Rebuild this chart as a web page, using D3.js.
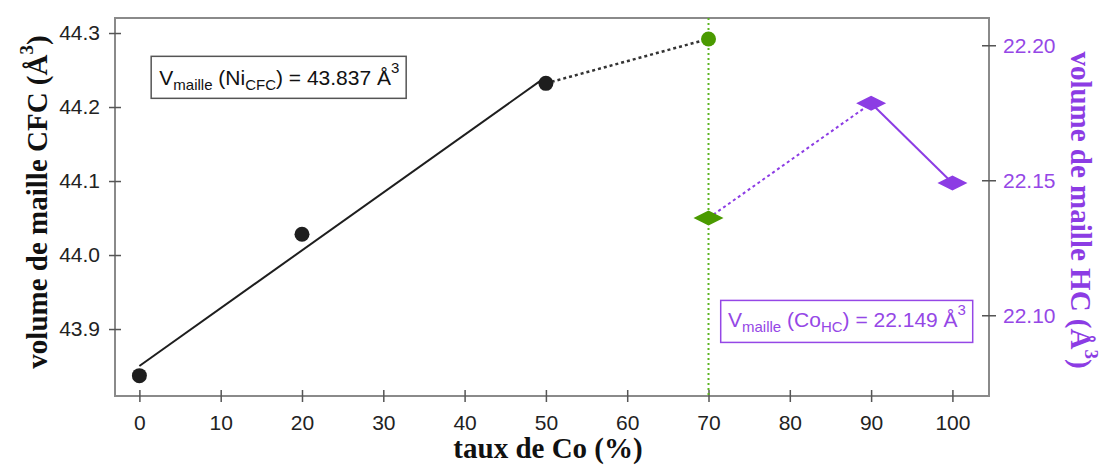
<!DOCTYPE html>
<html><head><meta charset="utf-8">
<script src="https://cdn.jsdelivr.net/npm/d3@7"></script>
<style>
html,body{margin:0;padding:0;background:#fff;}
svg{display:block;}
</style>
</head><body>
<svg id="chart" width="1109" height="466"></svg>
<script>
// ---- data ----
const cfcX = [0, 20, 50];
const cfcY = [43.837, 44.028, 44.232];
const greenCfcX = [70];
const greenCfcY = [44.292];
const hcX = [70, 90, 100];
const hcY = [22.136, 22.1785, 22.149];
const xTicks = [0, 10, 20, 30, 40, 50, 60, 70, 80, 90, 100];
const yLeftTicks = [43.9, 44.0, 44.1, 44.2, 44.3];
const yRightTicks = [22.10, 22.15, 22.20];
const boundary = [70];

const PURPLE = "#8c3ce4";
const PURPLE_TXT = "#9547e6";
const GREEN = "#4a9a00";
const GREEN_LINE = "#5cb520";

const svg = d3.select("#chart");
const L = 115, R = 989, T = 18, B = 396;

const x = d3.scaleLinear().domain([-3, 104.5]).range([L, R]);
const yL = d3.scaleLinear().domain([43.8095, 44.3203]).range([B, T]);
const yR = d3.scaleLinear().domain([22.0701, 22.2101]).range([B, T]);

// frame
svg.append("rect").attr("x", L).attr("y", T).attr("width", R - L).attr("height", B - T)
  .attr("fill", "none").attr("stroke", "#8a8a8a").attr("stroke-width", 2);

const tickFont = "'Liberation Sans', Arial, sans-serif";

// bottom axis
const gx = svg.append("g").attr("transform", `translate(0,${B})`)
  .call(d3.axisBottom(x).tickValues(xTicks).tickFormat(d3.format("d")).tickSizeOuter(0));
gx.select(".domain").remove();
gx.selectAll("line").attr("y1", -6).attr("y2", 6).attr("stroke", "#555").attr("stroke-width", 1.5);
gx.selectAll("text").attr("y", 19).attr("dy", "0.71em").attr("font-family", tickFont)
  .attr("font-size", 21).attr("fill", "#222");

// left axis
const gl = svg.append("g").attr("transform", `translate(${L},0)`)
  .call(d3.axisLeft(yL).tickValues(yLeftTicks).tickFormat(d3.format(".1f")).tickSizeOuter(0));
gl.select(".domain").remove();
gl.selectAll("line").attr("x1", -6).attr("x2", 6).attr("stroke", "#555").attr("stroke-width", 1.5);
gl.selectAll("text").attr("x", -15).attr("font-family", tickFont)
  .attr("font-size", 21).attr("fill", "#222");

// right axis
const gr = svg.append("g").attr("transform", `translate(${R},0)`)
  .call(d3.axisRight(yR).tickValues(yRightTicks).tickFormat(d3.format(".2f")).tickSizeOuter(0));
gr.select(".domain").remove();
gr.selectAll("line").attr("x1", -7).attr("x2", 7).attr("stroke", "#555").attr("stroke-width", 1.5);
gr.selectAll("text").attr("x", 14).attr("font-family", tickFont)
  .attr("font-size", 21).attr("fill", PURPLE_TXT);

// green vertical dotted line
svg.selectAll(".vline").data(boundary).enter().append("line")
  .attr("x1", d => x(d)).attr("x2", d => x(d)).attr("y1", T).attr("y2", B)
  .attr("stroke", GREEN_LINE).attr("stroke-width", 2).attr("stroke-dasharray", "2,3");

// linear fit of CFC points
const n = cfcX.length;
const mx = d3.mean(cfcX), my = d3.mean(cfcY);
const sxy = d3.sum(cfcX.map((v, i) => (v - mx) * (cfcY[i] - my)));
const sxx = d3.sum(cfcX.map(v => (v - mx) ** 2));
const slope = sxy / sxx, icpt = my - slope * mx;
const fitX = d3.extent(cfcX);
svg.append("line")
  .attr("x1", x(fitX[0])).attr("y1", yL(icpt + slope * fitX[0]))
  .attr("x2", x(fitX[1])).attr("y2", yL(icpt + slope * fitX[1]))
  .attr("stroke", "#1e1e1e").attr("stroke-width", 2);

// dotted black connecting last CFC point to green point
const lineL = d3.line().x(d => x(d[0])).y(d => yL(d[1]));
svg.append("path")
  .attr("d", lineL([[cfcX[n - 1], cfcY[n - 1]], [greenCfcX[0], greenCfcY[0]]]))
  .attr("fill", "none").attr("stroke", "#333").attr("stroke-width", 2.5).attr("stroke-dasharray", "3,3");

// purple lines
const lineR = d3.line().x(d => x(d[0])).y(d => yR(d[1]));
svg.append("path")
  .attr("d", lineR([[hcX[0], hcY[0]], [hcX[1], hcY[1]]]))
  .attr("fill", "none").attr("stroke", PURPLE).attr("stroke-width", 2).attr("stroke-dasharray", "3,3");
svg.append("path")
  .attr("d", lineR([[hcX[1], hcY[1]], [hcX[2], hcY[2]]]))
  .attr("fill", "none").attr("stroke", PURPLE).attr("stroke-width", 2);

// CFC circles
svg.selectAll(".cfc").data(cfcX.map((v, i) => [v, cfcY[i]])).enter().append("circle")
  .attr("cx", d => x(d[0])).attr("cy", d => yL(d[1])).attr("r", 7.5).attr("fill", "#1e1e1e");
svg.selectAll(".gcfc").data(greenCfcX.map((v, i) => [v, greenCfcY[i]])).enter().append("circle")
  .attr("cx", d => x(d[0])).attr("cy", d => yL(d[1])).attr("r", 7.5).attr("fill", GREEN);

// diamonds
const diamond = "M-15,0 L0,-7.5 L15,0 L0,7.5 Z";
svg.selectAll(".hc").data(hcX.map((v, i) => [v, hcY[i], i])).enter().append("path")
  .attr("d", diamond)
  .attr("transform", d => `translate(${x(d[0])},${yR(d[1])})`)
  .attr("fill", d => d[2] === 0 ? GREEN : PURPLE);

// annotation boxes
function annot(bx, by, bw, bh, tx, ty, color, parts) {
  svg.append("rect").attr("x", bx).attr("y", by).attr("width", bw).attr("height", bh)
    .attr("fill", "#fff").attr("stroke", color === "#111" ? "#555" : color).attr("stroke-width", 1.5);
  const t = svg.append("text").attr("x", tx).attr("y", ty).attr("font-family", tickFont)
    .attr("font-size", 21).attr("fill", color);
  parts.forEach(p => {
    const s = t.append("tspan").text(p.t);
    if (p.sub) s.attr("font-size", 15).attr("baseline-shift", "-35%");
    if (p.sup) s.attr("font-size", 15).attr("baseline-shift", "80%");
  });
}
annot(x(1.45), yL(44.2685), 255, 42, x(2.45), yL(44.2295), "#111", [
  {t: "V"}, {t: "maille", sub: true}, {t: " (Ni"}, {t: "CFC", sub: true}, {t: ") = 43.837 Å"}, {t: "3", sup: true}
]);
annot(x(71.5), yR(22.1055), 252, 42, x(72.4), yR(22.0955), PURPLE_TXT, [
  {t: "V"}, {t: "maille", sub: true}, {t: " (Co"}, {t: "HC", sub: true}, {t: ") = 22.149 Å"}, {t: "3", sup: true}
]);

// axis titles
const titleFont = "'Liberation Serif', 'Times New Roman', serif";
function title(g, parts) {
  parts.forEach(p => {
    const s = g.append("tspan").text(p.t);
    if (p.sup) s.attr("font-size", 19).attr("baseline-shift", "75%");
  });
}
const tl = svg.append("text").attr("transform", "translate(47,202) rotate(-90)")
  .attr("text-anchor", "middle").attr("font-family", titleFont).attr("font-weight", "bold")
  .attr("font-size", 29).attr("fill", "#111");
title(tl, [{t: "volume de maille CFC (Å"}, {t: "3", sup: true}, {t: ")"}]);

const trt = svg.append("text").attr("transform", "translate(1071,210) rotate(90)")
  .attr("text-anchor", "middle").attr("font-family", titleFont).attr("font-weight", "bold")
  .attr("font-size", 29).attr("fill", PURPLE);
title(trt, [{t: "volume de maille HC (Å"}, {t: "3", sup: true}, {t: ")"}]);

svg.append("text").attr("x", 548).attr("y", 458).attr("text-anchor", "middle")
  .attr("font-family", titleFont).attr("font-weight", "bold").attr("font-size", 29).attr("fill", "#111")
  .text("taux de Co (%)");
</script>
</body></html>
